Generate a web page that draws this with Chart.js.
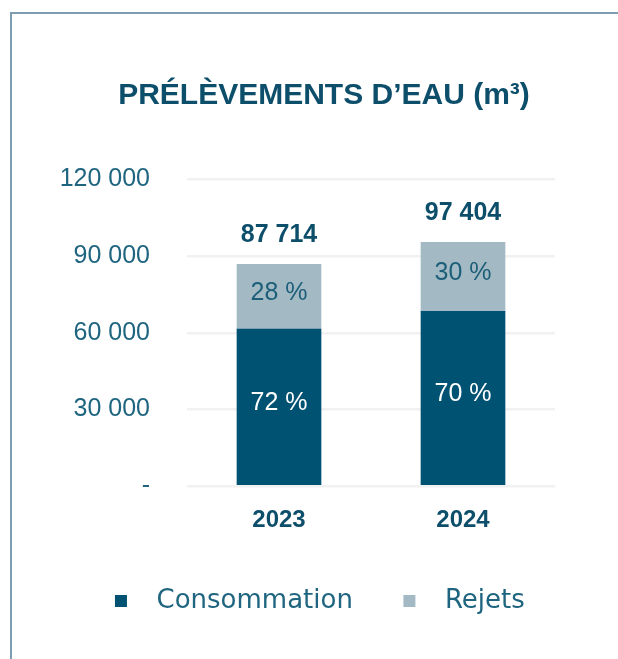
<!DOCTYPE html>
<html>
<head>
<meta charset="utf-8">
<script src="https://cdn.jsdelivr.net/npm/chart.js@4.4.1/dist/chart.umd.min.js"></script>
<style>
  html, body { margin: 0; padding: 0; background: #ffffff; }
  #wrap { position: relative; width: 618px; height: 659px; overflow: hidden; }
  #frame { position: absolute; left: 10px; top: 12px; width: 700px; height: 700px;
           border-left: 2px solid #7f9db0; border-top: 2px solid #7f9db0; }
  canvas { position: absolute; left: 0; top: 0; }
</style>
</head>
<body>
<div id="wrap">
  <div id="frame"></div>
  <canvas id="c" width="618" height="659"></canvas>
</div>
<script>
// ---- data ----
const categories = ['2023', '2024'];
const consommation = [61400, 68400];
const rejets = [25400, 27000];
const pctConsommation = ['72 %', '70 %'];
const pctRejets = ['28 %', '30 %'];
const totalLabels = ['87 714', '97 404'];
const yTicks = [0, 30000, 60000, 90000, 120000];
const seriesNames = ['Consommation', 'Rejets'];

const DARK = '#005272';
const LIGHT = '#a3bac5';
const TEXT = '#1f6580';
const TITLE = '#0d4f6b';

function fmt(v) {
  if (v === 0) return '-';
  return String(v).replace(/\B(?=(\d{3})+(?!\d))/g, ' ');
}

const labelPlugin = {
  id: 'barLabels',
  afterDatasetsDraw(chart) {
    const ctx = chart.ctx;
    ctx.save();
    ctx.textAlign = 'center';
    ctx.textBaseline = 'middle';
    const pcts = [pctConsommation, pctRejets];
    const colors = ['#ffffff', '#1d5e78'];
    chart.data.datasets.forEach((ds, di) => {
      const meta = chart.getDatasetMeta(di);
      meta.data.forEach((bar, i) => {
        const mid = (bar.y + bar.base) / 2 - 4;
        ctx.font = '25px "Liberation Sans", Arial, sans-serif';
        ctx.fillStyle = colors[di];
        ctx.fillText(pcts[di][i], bar.x, mid);
        if (di === chart.data.datasets.length - 1) {
          ctx.font = 'bold 25px "Liberation Sans", Arial, sans-serif';
          ctx.fillStyle = TITLE;
          ctx.fillText(totalLabels[i], bar.x, bar.y - 29);
        }
      });
    });
    ctx.restore();
  }
};

new Chart(document.getElementById('c'), {
  type: 'bar',
  data: {
    labels: categories,
    datasets: [
      { label: seriesNames[0], data: consommation, backgroundColor: DARK, barThickness: 84 },
      { label: seriesNames[1], data: rejets, backgroundColor: LIGHT, barThickness: 84 }
    ]
  },
  options: {
    responsive: false,
    animation: false,
    devicePixelRatio: 1,
    layout: { padding: { left: 50, right: 20, top: 0, bottom: 35 } },
    plugins: {
      title: {
        display: true,
        text: 'PRÉLÈVEMENTS D’EAU (m³)',
        color: TITLE,
        font: { family: '"Liberation Sans", Arial, sans-serif', size: 30, weight: 'bold' },
        padding: { top: 78, bottom: 65.5 }
      },
      legend: {
        display: true,
        position: 'bottom',
        labels: {
          color: TEXT,
          font: { family: '"DejaVu Sans", sans-serif', size: 26 },
          boxWidth: 12,
          boxHeight: 12,
          padding: 34,
          generateLabels(chart) {
            const items = Chart.defaults.plugins.legend.labels.generateLabels(chart);
            items.forEach((it, i) => {
              it.text = '  ' + it.text + (i === 0 ? '  ' : ' ');
              it.lineWidth = 0;
              it.strokeStyle = 'transparent';
            });
            return items;
          }
        }
      },
      tooltip: { enabled: false }
    },
    scales: {
      x: {
        stacked: true,
        grid: { display: false, drawTicks: false },
        border: { display: false },
        ticks: {
          color: TITLE,
          padding: 7,
          font: { family: '"Liberation Sans", Arial, sans-serif', size: 24, weight: 'bold', lineHeight: 2.25 }
        }
      },
      y: {
        stacked: true,
        min: 0,
        max: 120000,
        afterBuildTicks(scale) { scale.ticks = yTicks.map(v => ({ value: v })); },
        afterFit(scale) { scale.width = 137; },
        grid: { color: '#f1f1f1', lineWidth: 2.5, drawTicks: false },
        border: { display: false },
        ticks: {
          color: TEXT,
          padding: 37,
          font: { family: '"Liberation Sans", Arial, sans-serif', size: 25 },
          callback: (v) => fmt(v)
        }
      },
      yRight: {
        position: 'right',
        display: true,
        grid: { display: false, drawTicks: false },
        border: { display: false },
        ticks: { display: false },
        afterFit(scale) { scale.width = 43; }
      }
    }
  },
  plugins: [labelPlugin]
});
</script>
</body>
</html>
